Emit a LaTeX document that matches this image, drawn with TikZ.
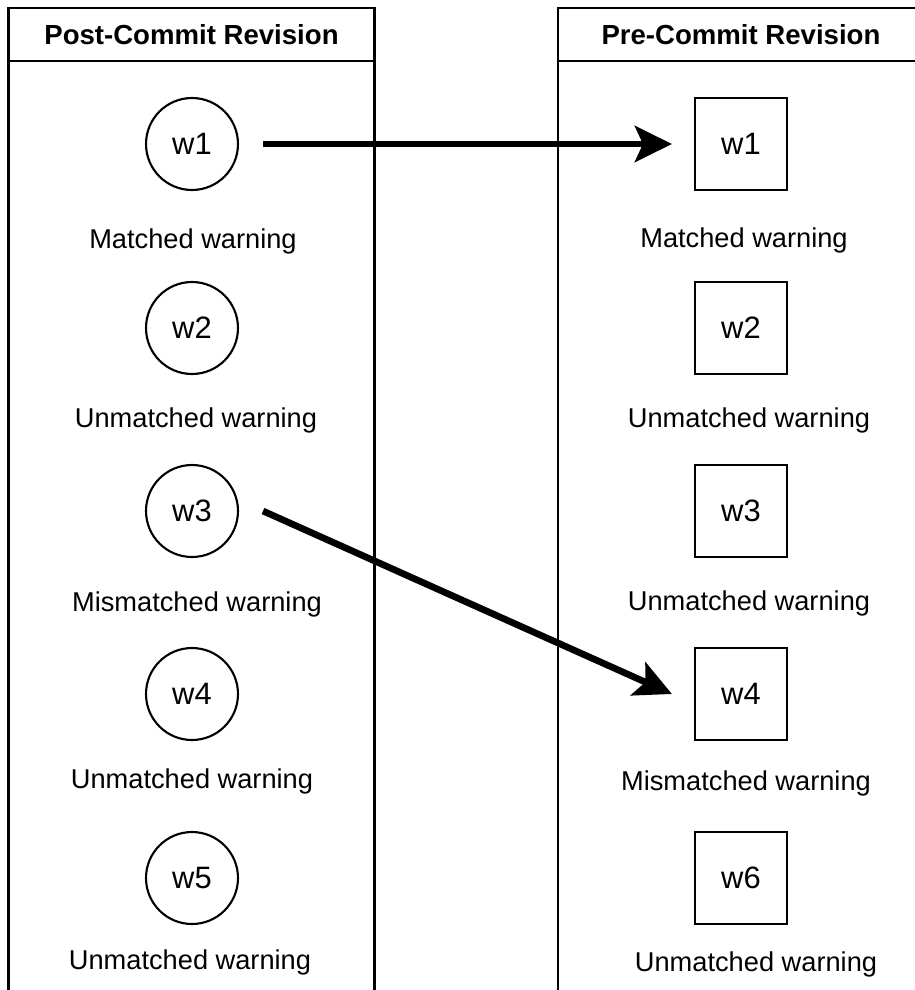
\documentclass[tikz,border=0pt]{standalone}
\usepackage{fontspec}
\setmainfont{Liberation Sans}
\usetikzlibrary{arrows.meta, positioning}
\tikzset{
  colhead/.style={
    draw, line width=1.2pt, outer sep=0pt, inner sep=0pt,
    minimum width=7.32cm, minimum height=1.054cm,
    font=\fontsize{15.7}{18}\selectfont\bfseries
  },
  colbody/.style={
    draw, line width=1.2pt, outer sep=0pt, inner sep=0pt,
    minimum width=7.32cm, minimum height=18.8cm
  },
  warncircle/.style={
    circle, draw, line width=1.2pt, inner sep=0pt, minimum size=1.84cm,
    font=\fontsize{17.6}{20}\selectfont
  },
  warnsquare/.style={
    rectangle, draw, line width=1.2pt, inner sep=0pt, minimum size=1.84cm,
    font=\fontsize{17.6}{20}\selectfont
  },
  warnlabel/.style={
    inner sep=0pt, font=\fontsize{15.5}{18}\selectfont
  },
  matcharrow/.style={
    -{Stealth[length=0.74cm, width=0.72cm, inset=0.16cm]}, line width=3.8pt
  },
}

\begin{document}
\begin{tikzpicture}[x=0.02cm, y=-0.02cm]
  \useasboundingbox (0,0) rectangle (914,990);

  % Columns
  \node[colhead] (headpost) at (191.5,34.6) {Post-Commit Revision};
  \node[colbody, below=0pt of headpost] (bodypost) {};
  \node[colhead] (headpre) at (741,34.6) {Pre-Commit Revision};
  \node[colbody, below=0pt of headpre] (bodypre) {};

  % Post-commit warnings
  \node[warncircle] (post1) at (192,144) {w1};
  \node[warnlabel] (postlab1) at (193,241) {Matched warning};
  \node[warncircle] (post2) at (192,328) {w2};
  \node[warnlabel] (postlab2) at (196,420) {Unmatched warning};
  \node[warncircle] (post3) at (192,511) {w3};
  \node[warnlabel] (postlab3) at (197,604) {Mismatched warning};
  \node[warncircle] (post4) at (192,694) {w4};
  \node[warnlabel] (postlab4) at (192,781) {Unmatched warning};
  \node[warncircle] (post5) at (192,878) {w5};
  \node[warnlabel] (postlab5) at (190,962) {Unmatched warning};

  % Pre-commit warnings
  \node[warnsquare] (pre1) at (741,144) {w1};
  \node[warnlabel] (prelab1) at (744,240) {Matched warning};
  \node[warnsquare] (pre2) at (741,328) {w2};
  \node[warnlabel] (prelab2) at (749,420) {Unmatched warning};
  \node[warnsquare] (pre3) at (741,511) {w3};
  \node[warnlabel] (prelab3) at (749,603) {Unmatched warning};
  \node[warnsquare] (pre4) at (741,694) {w4};
  \node[warnlabel] (prelab4) at (746,783) {Mismatched warning};
  \node[warnsquare] (pre6) at (741,878) {w6};
  \node[warnlabel] (prelab6) at (756,964) {Unmatched warning};

  % Matches
  \draw[matcharrow] ([xshift=0.48cm]post1.east) -- ([xshift=-0.44cm]pre1.west);
  \draw[matcharrow] ([xshift=0.48cm]post3.east) -- ([xshift=-0.44cm]pre4.west);
\end{tikzpicture}
\end{document}
